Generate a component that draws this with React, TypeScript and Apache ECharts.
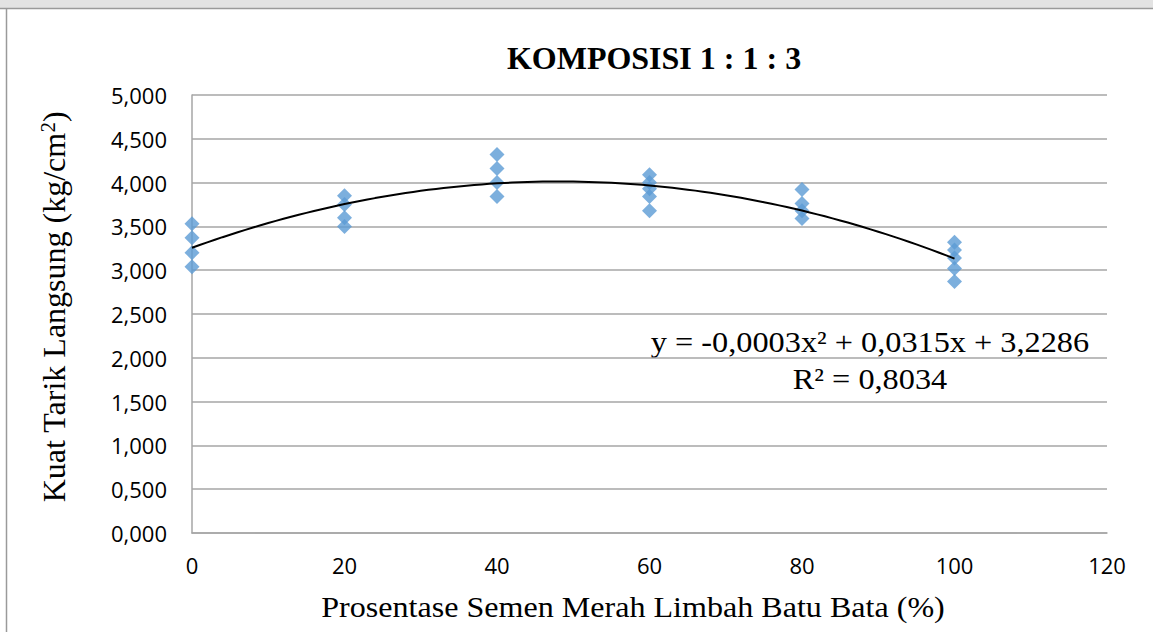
import React, { useEffect, useRef } from "react";
import * as echarts from "echarts";

// ---- data ----
const xGroups = [0, 20, 40, 60, 80, 100];
const valuesAt0 = [3.53, 3.37, 3.20, 3.04];
const valuesAt20 = [3.85, 3.75, 3.60, 3.50];
const valuesAt40 = [4.32, 4.16, 4.00, 3.84];
const valuesAt60 = [4.09, 4.00, 3.93, 3.84, 3.68];
const valuesAt80 = [3.92, 3.76, 3.68, 3.59];
const valuesAt100 = [3.32, 3.23, 3.14, 3.02, 2.87];
const groupValues = [valuesAt0, valuesAt20, valuesAt40, valuesAt60, valuesAt80, valuesAt100];

const chartTitle = "KOMPOSISI 1 : 1 : 3";
const xAxisTitle = "Prosentase Semen Merah Limbah Batu Bata (%)";
const yAxisTitle = "Kuat Tarik Langsung (kg/cm{sup|2})";
const equationText = "y = -0,0003x² + 0,0315x + 3,2286";
const r2Text = "R² = 0,8034";

// scatter points built from the arrays
const points: number[][] = [];
xGroups.forEach((x, i) => groupValues[i].forEach((v) => points.push([x, v])));

// least-squares quadratic trendline fitted to the points (as the spreadsheet does)
function fitQuadratic(pts: number[][]) {
  let s0 = 0, s1 = 0, s2 = 0, s3 = 0, s4 = 0, t0 = 0, t1 = 0, t2 = 0;
  pts.forEach(([x, y]) => {
    s0 += 1; s1 += x; s2 += x * x; s3 += x * x * x; s4 += x * x * x * x;
    t0 += y; t1 += x * y; t2 += x * x * y;
  });
  const M = [
    [s0, s1, s2, t0],
    [s1, s2, s3, t1],
    [s2, s3, s4, t2],
  ];
  for (let i = 0; i < 3; i++) {
    for (let k = i + 1; k < 3; k++) {
      const f = M[k][i] / M[i][i];
      for (let j = i; j < 4; j++) M[k][j] -= f * M[i][j];
    }
  }
  const c = [0, 0, 0];
  for (let i = 2; i >= 0; i--) {
    let s = M[i][3];
    for (let j = i + 1; j < 3; j++) s -= M[i][j] * c[j];
    c[i] = s / M[i][i];
  }
  return c; // a, b, c
}
const coef = fitQuadratic(points);
const trendX: number[] = [];
for (let x = xGroups[0]; x <= xGroups[xGroups.length - 1]; x += 1) trendX.push(x);
const trendLine = trendX.map((x) => [x, coef[0] + coef[1] * x + coef[2] * x * x]);

export default function App() {
  const ref = useRef<HTMLDivElement>(null);
  useEffect(() => {
    if (!ref.current) return;
    const chart = echarts.init(ref.current, undefined, { renderer: "svg" });
    const serif = "'Liberation Serif', 'Times New Roman', serif";
    const sans = "'Open Sans', 'Noto Sans', sans-serif";
    chart.setOption({
      animation: false,
      backgroundColor: "#ffffff",
      grid: { left: 192, right: 46, top: 95, bottom: 99, containLabel: false },
      xAxis: {
        type: "value",
        min: 0,
        max: 120,
        interval: 20,
        axisLine: { show: true, lineStyle: { color: "#a6a6a6", width: 1.5 } },
        axisTick: { show: false },
        splitLine: { show: false },
        axisLabel: { fontFamily: sans, fontSize: 22, color: "#000", margin: 21 },
      },
      yAxis: {
        type: "value",
        min: 0,
        max: 5,
        interval: 0.5,
        name: yAxisTitle,
        nameLocation: "middle",
        nameGap: 121,
        nameRotate: 90,
        nameTextStyle: {
          fontFamily: serif,
          fontSize: 32,
          color: "#000",
          padding: [0, 0, 0, 14],
          rich: {
            sup: { fontFamily: serif, fontSize: 21, color: "#000", verticalAlign: "top", padding: [0, 0, 13, 0] },
          },
        },
        axisLine: { show: true, lineStyle: { color: "#a6a6a6", width: 1.5 } },
        axisTick: { show: false },
        splitLine: { show: true, lineStyle: { color: "#a6a6a6", width: 1.5 } },
        axisLabel: {
          fontFamily: sans,
          fontSize: 22,
          color: "#000",
          margin: 25,
          formatter: (v: number) => v.toFixed(3).replace(".", ","),
        },
      },
      graphic: [
        { type: "rect", shape: { x: 0, y: 0, width: 1153, height: 8 }, style: { fill: "#e3e3e3" }, silent: true },
        { type: "line", shape: { x1: 0, y1: 8.5, x2: 1153, y2: 8.5 }, style: { stroke: "#9a9a9a", lineWidth: 1.5 }, silent: true },
        { type: "line", shape: { x1: 6.5, y1: 8.5, x2: 6.5, y2: 632 }, style: { stroke: "#9a9a9a", lineWidth: 1.5 }, silent: true },
        {
          type: "text",
          x: 654,
          y: 58,
          style: { text: chartTitle, textAlign: "center", textVerticalAlign: "middle", font: `bold 32px ${serif}`, fill: "#000" },
        },
        {
          type: "text",
          x: 633,
          y: 607,
          scaleX: 1.07,
          style: { text: xAxisTitle, textAlign: "center", textVerticalAlign: "middle", font: `30px ${serif}`, fill: "#000" },
        },
        {
          type: "text",
          x: 870,
          y: 342,
          scaleX: 1.077,
          style: { text: equationText, textAlign: "center", textVerticalAlign: "middle", font: `30px ${serif}`, fill: "#000" },
        },
        {
          type: "text",
          x: 870,
          y: 379,
          scaleX: 1.077,
          style: { text: r2Text, textAlign: "center", textVerticalAlign: "middle", font: `30px ${serif}`, fill: "#000" },
        },
      ],
      series: [
        {
          type: "line",
          data: trendLine,
          showSymbol: false,
          smooth: false,
          lineStyle: { color: "#000", width: 2 },
          z: 3,
        },
        {
          type: "scatter",
          data: points,
          symbol: "diamond",
          symbolSize: 15,
          itemStyle: { color: "#5b9bd5" },
          z: 2,
        },
      ],
    });
    return () => chart.dispose();
  }, []);
  return <div ref={ref} style={{ position: "absolute", left: 0, top: 0, width: 1153, height: 632 }} />;
}
